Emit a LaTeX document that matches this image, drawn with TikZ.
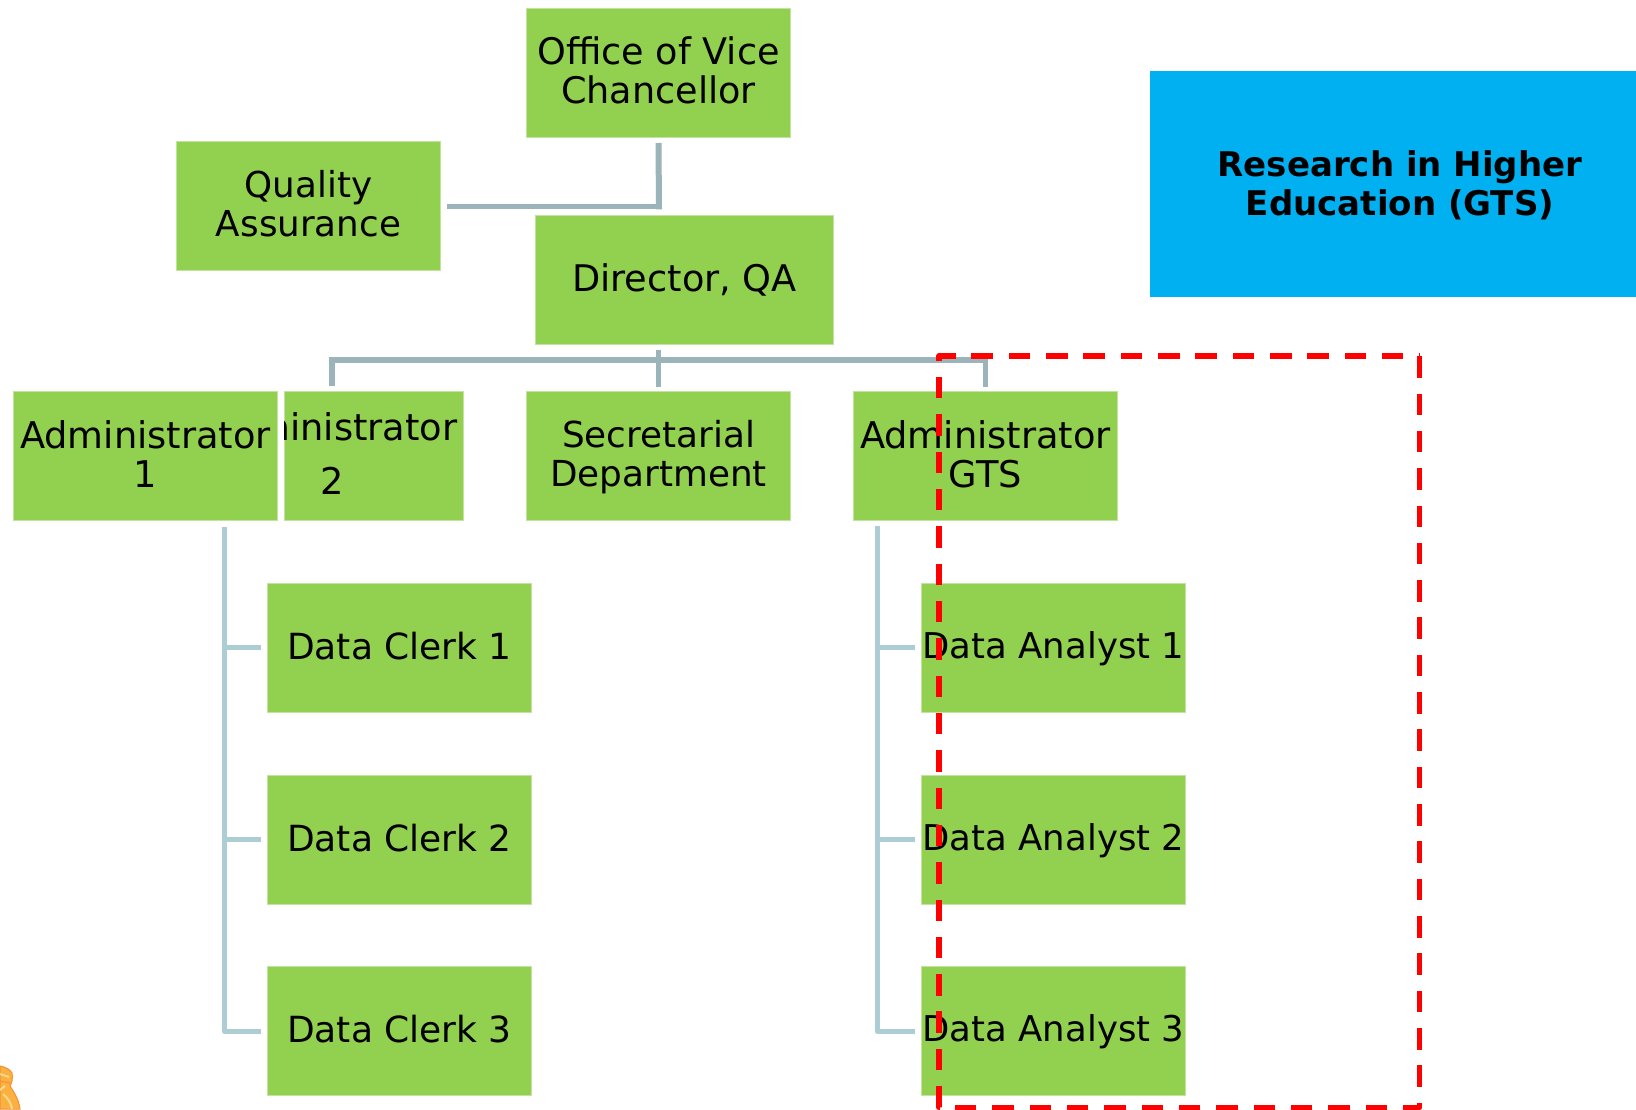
\documentclass[tikz,border=0pt]{standalone}
\usepackage{fontspec}
\setmainfont{DejaVu Sans}
\usetikzlibrary{calc}
\definecolor{boxgreen}{HTML}{92D050}
\definecolor{boxedge}{HTML}{C4E3A0}
\definecolor{bluebox}{HTML}{00B0F0}
\definecolor{connA}{HTML}{9AB4B9}
\definecolor{connB}{HTML}{ABCDD3}
\definecolor{orangeA}{HTML}{FBB040}
\definecolor{orangeB}{HTML}{F0923A}
\definecolor{orangeC}{HTML}{FFD98A}
\tikzset{
 x=1pt,y=-1pt,
 every node/.style={inner sep=0pt,outer sep=0pt},
 labeltext/.style={font=\fontsize{#1}{39}\selectfont,text=black,align=center},
 labeltext/.default=36,
 gbox/.style={fill=boxgreen,draw=boxedge,line width=0.6pt,minimum width=264pt,minimum height=129pt},
 trunk/.style={draw=connA,line width=5.5pt,line cap=butt},
 branch/.style={draw=connB,line width=5pt,line join=round},
 redframe/.style={draw=red,line width=5.5pt,line join=round,dash pattern=on 21.5pt off 15.824pt},
}
\newcommand{\lbl}[3]{\node[labeltext=#1,anchor=center] at (#2) {#3};}
\begin{document}
\begin{tikzpicture}
\useasboundingbox (0,0) rectangle (1636,1109);
\fill[white] (0,0) rectangle (1636,1109);
\node[gbox] (office) at (658.5,72.5) {};
\node[gbox] (quality) at (308.5,206) {};
\node[gbox,minimum width=298pt] (director) at (684.5,280) {};
\node[gbox] (admin1) at (145.5,456) {};
\node[gbox,minimum width=179pt] (admin2) at (374,456) {};
\node[gbox] (secretarial) at (658.5,456) {};
\node[gbox] (admingts) at (985.5,456) {};
\node[gbox] (clerk1) at (399.5,648) {};
\node[gbox] (clerk2) at (399.5,840) {};
\node[gbox] (clerk3) at (399.5,1031) {};
\node[gbox] (analyst1) at (1053.5,648) {};
\node[gbox] (analyst2) at (1053.5,840) {};
\node[gbox] (analyst3) at (1053.5,1031) {};
\node[fill=bluebox,minimum width=486pt,minimum height=226pt] (research) at (1393,184) {};
% labels
\lbl{36.6}{658.5,70}{Office of Vice\\Chancellor}
\lbl{35.7}{308.5,204}{Quality\\Assurance}
\lbl{36.7}{684.5,280}{Director, QA}
\lbl{36.8}{145.5,454}{Administrator\\1}
\begin{scope}
\clip (admin2.south west) rectangle (admin2.north east);
\node[labeltext=36.8] (admin2a) at (332,427) {Administrator};
\node[labeltext=36.8] (admin2b) at (332,481) {2};
\end{scope}
\lbl{35.8}{658.5,457.5}{Secretarial\\Department}
\lbl{36.8}{985.5,454}{Administrator\\GTS}
\lbl{36}{399.5,646}{Data Clerk 1}
\lbl{36}{399.5,838}{Data Clerk 2}
\lbl{36}{399.5,1029}{Data Clerk 3}
\lbl{35.5}{1053.5,649}{Data Analyst 1}
\lbl{35.5}{1053.5,841}{Data Analyst 2}
\lbl{35.5}{1053.5,1032}{Data Analyst 3}
\node[font=\bfseries\fontsize{34}{39}\selectfont,align=center] at (1400,185) {Research in Higher\\Education (GTS)};
% connectors
\coordinate (qjoin) at (659,209.3);
\coordinate (tbar) at (659,360);
\draw[trunk,line width=6pt] ([yshift=-6pt]office.south) -- (qjoin);
\draw[trunk,line width=5pt] ([xshift=6pt]quality.east) -- (659,206);
\draw[trunk] (secretarial.north |- director.south) ++(0,-5pt) -- ([yshift=5pt]secretarial.north);
\draw[trunk] (332,386) |- (tbar) -| ([yshift=5pt]admingts.north);
% branches
\coordinate (b1) at (224,527);
\coordinate (b2) at (877,526);
\draw[branch] (b1) |- ([xshift=-6.5pt]clerk3.west);
\draw[branch] ([yshift=1pt]b1 |- clerk1.west) -- ([xshift=-6.5pt,yshift=1pt]clerk1.west);
\draw[branch] ([yshift=1pt]b1 |- clerk2.west) -- ([xshift=-6.5pt,yshift=1pt]clerk2.west);
\draw[branch] (b2) |- ([xshift=-6.5pt]analyst3.west);
\draw[branch] ([yshift=1pt]b2 |- analyst1.west) -- ([xshift=-6.5pt,yshift=1pt]analyst1.west);
\draw[branch] ([yshift=1pt]b2 |- analyst2.west) -- ([xshift=-6.5pt,yshift=1pt]analyst2.west);
% dashed frame
\draw[redframe] (1419.5,356.2) -- (1419.5,1107.5) -- (939,1107.5) -- (939,356.2) -- (1419.5,356.2);
% ornament at the lower left corner
\fill[orangeA,draw=orangeB,line width=1pt] (0,1066) .. controls (5,1067) and (10,1069) .. (12,1073) .. controls (13,1078) and (12,1083) .. (10,1086) .. controls (14,1092) and (19,1100) .. (20,1109) -- (0,1109) -- cycle;
\draw[orangeC,line width=2pt] (0,1074) -- (9,1077);
\draw[orangeC,line width=2pt] (0,1090) -- (5,1086);
\draw[orangeC,line width=2pt] (3,1094) .. controls (8,1098) and (11,1103) .. (12,1109);
\draw[orangeB,line width=1pt] (0,1081) -- (10,1083);
\end{tikzpicture}
\end{document}
